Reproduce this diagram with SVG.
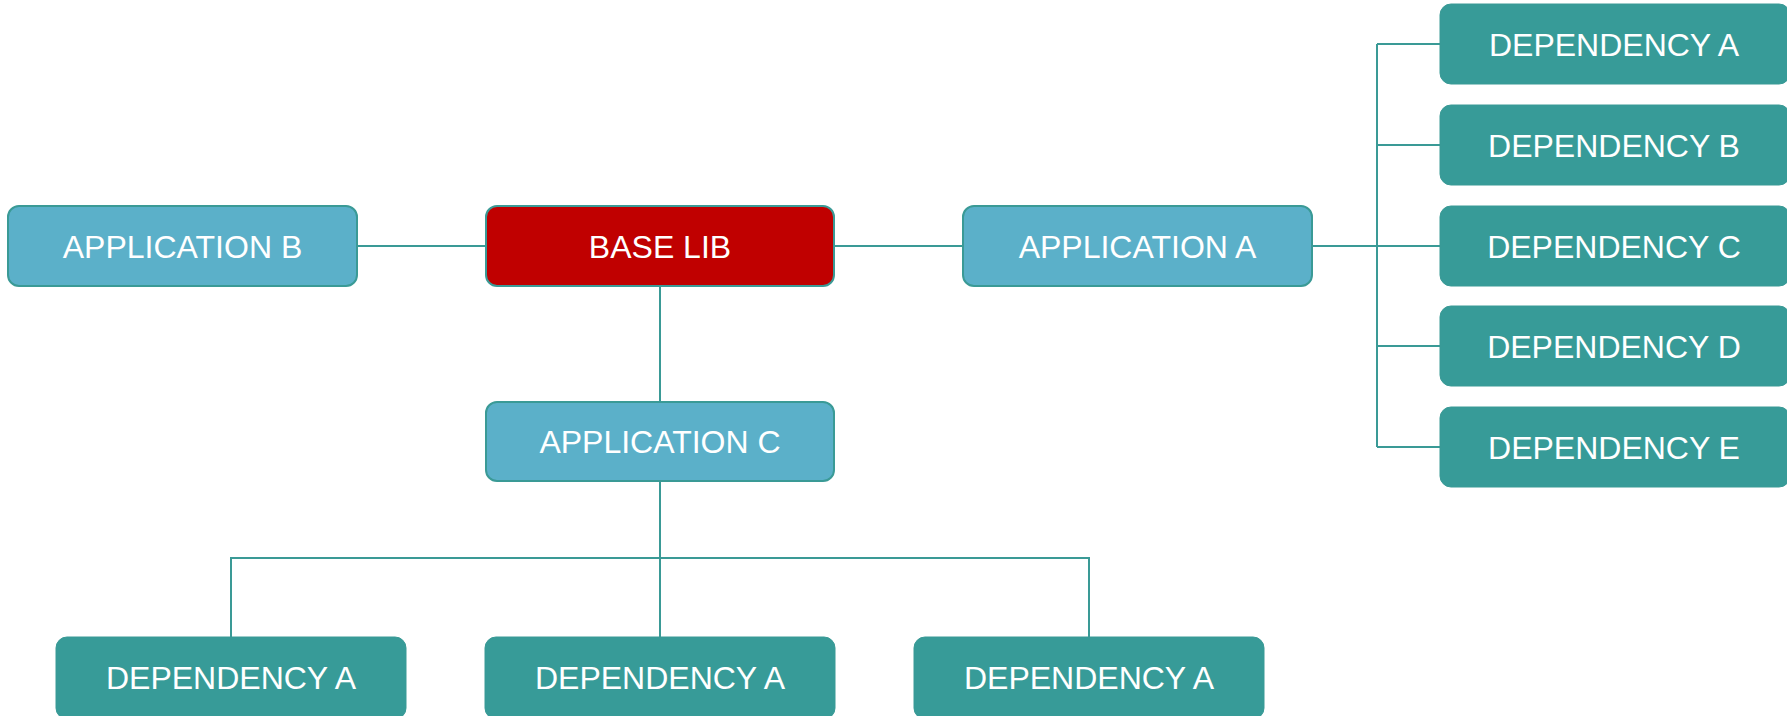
<svg xmlns="http://www.w3.org/2000/svg" width="1787" height="716" viewBox="0 0 1787 716">
<style>
.app{fill:#5bb0c9;stroke:#3a9a96;stroke-width:2}
.base{fill:#c00000;stroke:#3a9a96;stroke-width:2}
.dep{fill:#379b98;stroke:#3a9a96;stroke-width:1}
.lbl{fill:#ffffff;font-family:"Liberation Sans",Arial,sans-serif;font-size:32px;text-anchor:middle}
.conn{fill:none;stroke:#3a9a96;stroke-width:2}
</style>
<rect width="1787" height="716" fill="#ffffff"/>
<g id="connectors" class="conn">
<path d="M357 246H486"/>
<path d="M834 246H963"/>
<path d="M1312 246H1377"/>
<path d="M1377 44V447"/>
<path d="M1377 44H1440M1377 145H1440M1377 246H1440M1377 346H1440M1377 447H1440"/>
<path d="M660 286V402"/>
<path d="M660 481V637"/>
<path d="M231 637V558H1089V637"/>
</g>
<g id="app-b"><rect class="app" x="8" y="206" width="349" height="80" rx="11"/><text class="lbl" x="182.5" y="257.5">APPLICATION B</text></g>
<g id="base-lib"><rect class="base" x="486" y="206" width="348" height="80" rx="11"/><text class="lbl" x="660" y="257.5">BASE LIB</text></g>
<g id="app-a"><rect class="app" x="963" y="206" width="349" height="80" rx="11"/><text class="lbl" x="1137.5" y="257.5">APPLICATION A</text></g>
<g id="app-c"><rect class="app" x="486" y="402" width="348" height="79" rx="11"/><text class="lbl" x="660" y="453">APPLICATION C</text></g>
<g id="dep-a"><rect class="dep" x="1440" y="4" width="350" height="80" rx="11"/><text class="lbl" x="1614" y="55.5">DEPENDENCY A</text></g>
<g id="dep-b"><rect class="dep" x="1440" y="105" width="350" height="80" rx="11"/><text class="lbl" x="1614" y="156.5">DEPENDENCY B</text></g>
<g id="dep-c"><rect class="dep" x="1440" y="206" width="350" height="80" rx="11"/><text class="lbl" x="1614" y="257.5">DEPENDENCY C</text></g>
<g id="dep-d"><rect class="dep" x="1440" y="306" width="350" height="80" rx="11"/><text class="lbl" x="1614" y="357.5">DEPENDENCY D</text></g>
<g id="dep-e"><rect class="dep" x="1440" y="407" width="350" height="80" rx="11"/><text class="lbl" x="1614" y="458.5">DEPENDENCY E</text></g>
<g id="dep-a-1"><rect class="dep" x="56" y="637" width="350" height="82" rx="11"/><text class="lbl" x="231" y="689">DEPENDENCY A</text></g>
<g id="dep-a-2"><rect class="dep" x="485" y="637" width="350" height="82" rx="11"/><text class="lbl" x="660" y="689">DEPENDENCY A</text></g>
<g id="dep-a-3"><rect class="dep" x="914" y="637" width="350" height="82" rx="11"/><text class="lbl" x="1089" y="689">DEPENDENCY A</text></g>
</svg>
